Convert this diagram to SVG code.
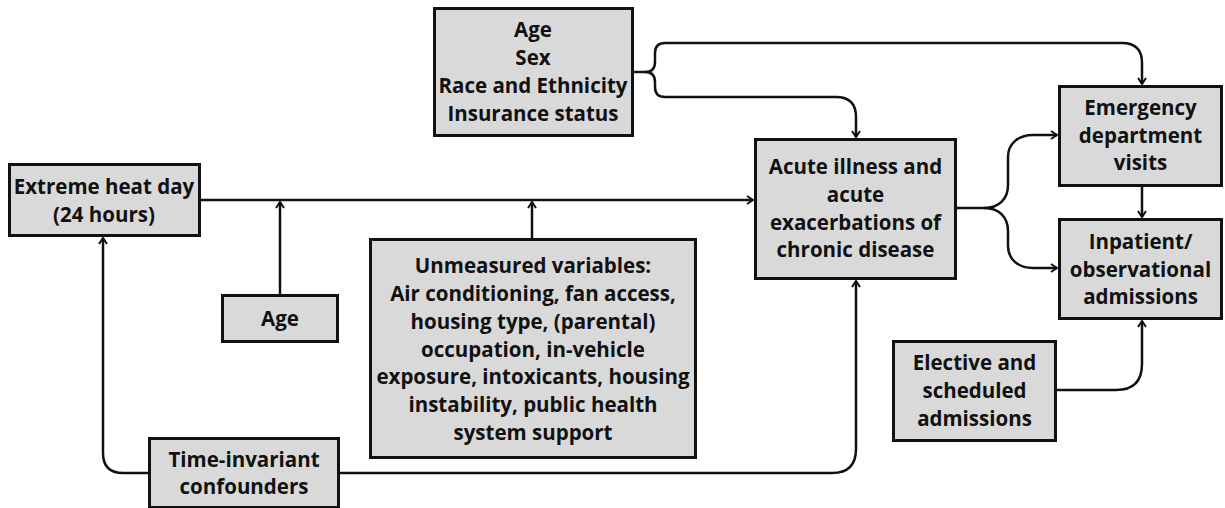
<svg xmlns="http://www.w3.org/2000/svg" width="1225" height="508" viewBox="0 0 1225 508">
<style>
.box{fill:#d9d9d9;stroke:#111;stroke-width:3}
.t{font-family:"Open Sans","Liberation Sans",sans-serif;font-weight:700;font-size:20.5px;fill:#111;text-anchor:middle}
.c{fill:none;stroke:#111;stroke-width:2.5}
.a{marker-end:url(#arr)}
</style>
<defs>
<marker id="arr" viewBox="0 0 10 10" refX="9" refY="5" markerWidth="10" markerHeight="10" markerUnits="userSpaceOnUse" orient="auto">
<path d="M3,1 L9,5 L3,9" fill="none" stroke="#111" stroke-width="2"/>
</marker>
</defs>
<rect width="1225" height="508" fill="#fff"/>
<g id="connectors">
<path class="c a" d="M200,200 H753"/>
<path class="c a" d="M280,294 V202"/>
<path class="c a" d="M532,238 V202"/>
<path class="c a" d="M633,72 H645 Q655,72 655,62 V53 Q655,43 665,43 H1122 Q1142,43 1142,63 V84"/>
<path class="c a" d="M645,72 Q655,72 655,82 V87 Q655,97 665,97 H836 Q856,97 856,117 V137"/>
<path class="c a" d="M957,208 H984 C1000,208 1008,198 1008,185 V157 C1008,144 1018,135 1033,135 H1057"/>
<path class="c a" d="M984,208 C1000,208 1008,218 1008,231 V246 C1008,259 1018,268 1033,268 H1057"/>
<path class="c a" d="M1142,187 V217"/>
<path class="c a" d="M1057,390 H1116 Q1142,390 1142,364 V321"/>
<path class="c a" d="M148,473 H123 Q103,473 103,453 V238"/>
<path class="c a" d="M340,473 H832 Q856,473 856,449 V281"/>
</g>
<g id="heat">
<rect class="box" x="9.5" y="164.5" width="190" height="71"/>
<text class="t" x="104" y="194">Extreme heat day</text>
<text class="t" x="104" y="222">(24 hours)</text>
</g>
<g id="demographics">
<rect class="box" x="434.5" y="8.5" width="198" height="127"/>
<text class="t" x="533" y="37">Age</text>
<text class="t" x="533" y="65">Sex</text>
<text class="t" x="533" y="93">Race and Ethnicity</text>
<text class="t" x="533" y="121">Insurance status</text>
</g>
<g id="acute">
<rect class="box" x="755.5" y="139.5" width="200" height="139"/>
<text class="t" x="855.5" y="174">Acute illness and</text>
<text class="t" x="855.5" y="202">acute</text>
<text class="t" x="855.5" y="229.5">exacerbations of</text>
<text class="t" x="855.5" y="257">chronic disease</text>
</g>
<g id="ed">
<rect class="box" x="1059.5" y="86.5" width="162" height="99"/>
<text class="t" x="1140.5" y="115">Emergency</text>
<text class="t" x="1140.5" y="143">department</text>
<text class="t" x="1140.5" y="170">visits</text>
</g>
<g id="inpatient">
<rect class="box" x="1059.5" y="219.5" width="162" height="99"/>
<text class="t" x="1140.5" y="249">Inpatient/</text>
<text class="t" x="1140.5" y="277">observational</text>
<text class="t" x="1140.5" y="304">admissions</text>
</g>
<g id="elective">
<rect class="box" x="893.5" y="341.5" width="162" height="99"/>
<text class="t" x="974.5" y="370">Elective and</text>
<text class="t" x="974.5" y="398">scheduled</text>
<text class="t" x="974.5" y="426">admissions</text>
</g>
<g id="unmeasured">
<rect class="box" x="370.5" y="239.5" width="325" height="218"/>
<text class="t" x="533" y="273">Unmeasured variables:</text>
<text class="t" x="533" y="301">Air conditioning, fan access,</text>
<text class="t" x="533" y="329">housing type, (parental)</text>
<text class="t" x="533" y="357">occupation, in-vehicle</text>
<text class="t" x="533" y="384">exposure, intoxicants, housing</text>
<text class="t" x="533" y="412">instability, public health</text>
<text class="t" x="533" y="440">system support</text>
</g>
<g id="age">
<rect class="box" x="222.5" y="295.5" width="115" height="46"/>
<text class="t" x="280" y="326">Age</text>
</g>
<g id="time-invariant">
<rect class="box" x="149.5" y="438.5" width="189" height="69"/>
<text class="t" x="244" y="467">Time-invariant</text>
<text class="t" x="244" y="494">confounders</text>
</g>
</svg>
